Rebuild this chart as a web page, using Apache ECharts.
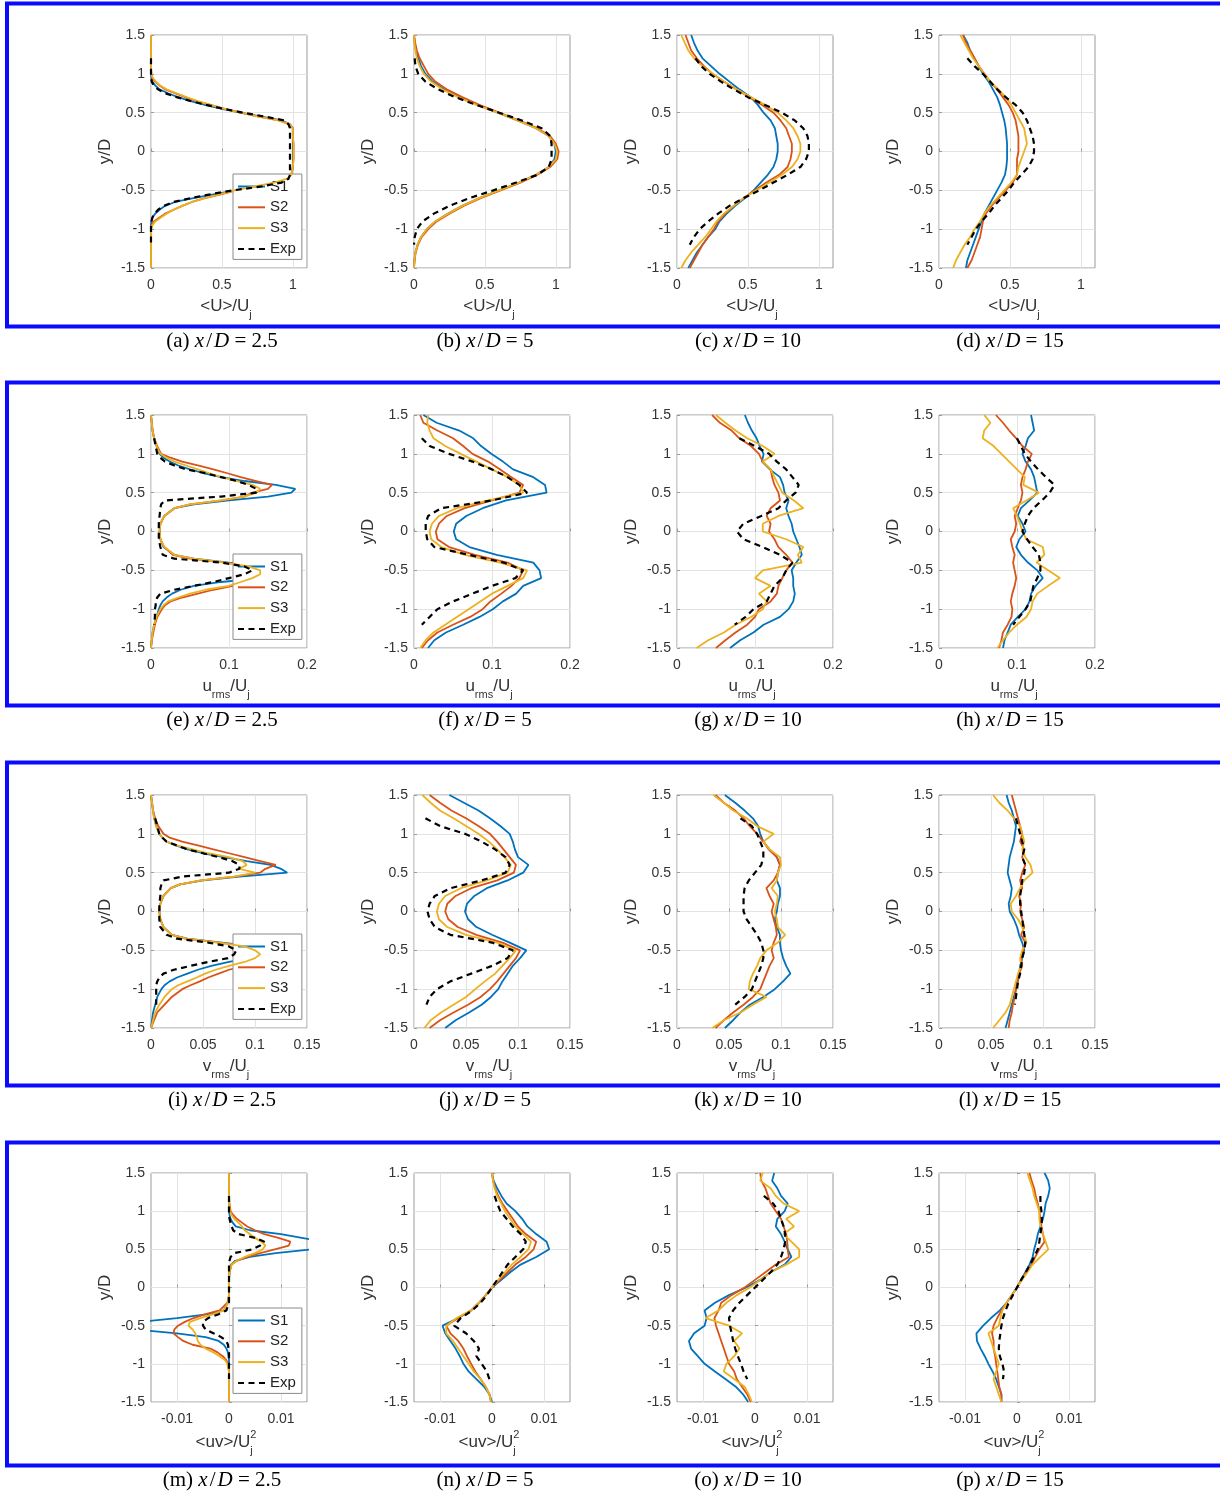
<!DOCTYPE html>
<html>
<head>
<meta charset="utf-8">
<script src="https://cdn.jsdelivr.net/npm/echarts@6/dist/echarts.min.js"></script>
<style>html,body{margin:0;padding:0;background:#fff}#c{width:1220px;height:1497px}</style>
</head>
<body>
<div id="c"></div>
<script>
// ---------------- DATA ----------------
const Y_FINE = [1.5,1.4,1.3,1.2,1.1,1.0,0.95,0.9,0.85,0.8,0.75,0.7,0.65,0.6,0.55,0.5,0.45,0.4,0.35,0.3,0.2,0.1,0,-0.1,-0.2,-0.3,-0.35,-0.4,-0.45,-0.5,-0.55,-0.6,-0.65,-0.7,-0.75,-0.8,-0.85,-0.9,-0.95,-1.0,-1.1,-1.2,-1.3,-1.4,-1.5];
const Y_STEP = [1.5,1.4,1.3,1.2,1.1,1.0,0.9,0.8,0.7,0.6,0.5,0.4,0.3,0.2,0.1,0,-0.1,-0.2,-0.3,-0.4,-0.5,-0.6,-0.7,-0.8,-0.9,-1.0,-1.1,-1.2,-1.3,-1.4,-1.5];

const SERIES_NAMES = ['S1','S2','S3','Exp'];
const X_TICKS_U = [0,0.5,1];
const X_TICKS_URMS = [0,0.1,0.2];
const X_TICKS_VRMS = [0,0.05,0.1,0.15];
const X_TICKS_UV = [-0.01,0,0.01];
const Y_TICKS = [-1.5,-1,-0.5,0,0.5,1,1.5];
const X_RANGES = [[0,1.1],[0,0.2],[0,0.15],[-0.015,0.015]];
const PANEL_LETTERS = ['a','b','c','d','e','f','g','h','i','j','k','l','m','n','o','p'];
const XD_VALUES = ['2.5','5','10','15'];

// (a) <U>/Uj, x/D=2.5
const A_S1 = [0,0,0,0,0,0, 0.003,0.01,0.03,0.06,0.12,0.19,0.28,0.38,0.5,0.63,0.78,0.92,0.98,1, 1,1,1,1,1, 0.99,0.96,0.88,0.76,0.6,0.45,0.3,0.17,0.1,0.06,0.03,0.01,0.003,0, 0,0,0,0,0,0];
const A_S2 = [0,0,0,0,0,0.002, 0.01,0.03,0.06,0.1,0.17,0.24,0.32,0.42,0.52,0.63,0.76,0.9,0.98,1, 1,1.005,1.005,1.005,1, 0.99,0.96,0.88,0.74,0.6,0.5,0.38,0.29,0.22,0.16,0.1,0.06,0.02,0.005, 0,0,0,0,0,0];
const A_S3 = [0,0,0,0,0,0.002, 0.012,0.035,0.065,0.11,0.18,0.25,0.33,0.42,0.52,0.63,0.76,0.9,0.98,1, 1,1.005,1.005,1.005,1, 0.99,0.96,0.87,0.73,0.59,0.49,0.38,0.29,0.22,0.16,0.11,0.07,0.03,0.01, 0.002,0,0,0,0,0];
const A_EXP = [null,null,null,0,0,0, 0,0.005,0.02,0.05,0.1,0.18,0.28,0.39,0.51,0.65,0.8,0.94,0.97,0.98, 0.98,0.98,0.98,0.98,0.98, 0.98,0.97,0.92,0.78,0.58,0.42,0.28,0.16,0.09,0.05,0.025,0.01,0.003,0, 0,0,0,null,null,null];
// (b)
const B_S1 = [0,0.005,0.015,0.03,0.05, 0.08,0.13,0.21,0.32,0.45, 0.59,0.73,0.86,0.95,0.99, 1.0, 0.99,0.95,0.86,0.74,0.6, 0.46,0.34,0.24,0.15,0.09, 0.05,0.025,0.01,0.003,0];
const B_S2 = [0,0.008,0.02,0.04,0.07, 0.1,0.15,0.23,0.34,0.46, 0.6,0.74,0.87,0.96,1.0, 1.02, 1.01,0.96,0.87,0.75,0.61, 0.47,0.35,0.25,0.16,0.1, 0.055,0.028,0.012,0.004,0];
const B_S3 = [0,0.003,0.01,0.02,0.04, 0.07,0.12,0.2,0.31,0.44, 0.59,0.73,0.86,0.95,0.99, 1.01, 1.0,0.95,0.86,0.74,0.6, 0.46,0.34,0.24,0.15,0.09, 0.05,0.025,0.01,0.003,0];
const B_EXP = [null,null,null,0.005,0.01, 0.03,0.08,0.17,0.29,0.44, 0.6,0.76,0.9,0.96,0.97, 0.97, 0.97,0.95,0.87,0.72,0.56, 0.39,0.25,0.14,0.06,0.02, 0.005,0,null,null,null];
// (c)
const C_S1 = [0.1,0.12,0.145,0.18,0.24, 0.3,0.37,0.44,0.52,0.57, 0.61,0.66,0.69,0.7,0.71, 0.71, 0.7,0.68,0.64,0.59,0.54, 0.48,0.41,0.35,0.3,0.27, 0.22,0.18,0.14,0.11,0.08];
const C_S2 = [0.06,0.08,0.1,0.14,0.19, 0.25,0.33,0.42,0.51,0.6, 0.68,0.73,0.77,0.79,0.81, 0.81, 0.8,0.78,0.72,0.63,0.55, 0.47,0.4,0.34,0.29,0.26, 0.22,0.18,0.15,0.12,0.09];
const C_S3 = [0.03,0.055,0.08,0.12,0.18, 0.25,0.33,0.42,0.52,0.62, 0.71,0.77,0.82,0.85,0.87, 0.87, 0.85,0.81,0.74,0.65,0.56, 0.47,0.4,0.33,0.28,0.24, 0.2,0.15,0.1,0.06,0.03];
const C_EXP = [null,null,null,0.13,0.17, 0.23,0.31,0.4,0.5,0.62, 0.74,0.83,0.89,0.92,0.93, 0.93, 0.91,0.87,0.78,0.68,0.58, 0.47,0.37,0.29,0.22,0.16, 0.12,0.09,null,null,null];
// (d)
const D_S1 = [0.17,0.2,0.22,0.25,0.28, 0.31,0.35,0.38,0.41,0.43, 0.445,0.46,0.47,0.475,0.48, 0.48, 0.48,0.475,0.465,0.44,0.41, 0.38,0.35,0.32,0.3,0.28, 0.26,0.24,0.22,0.2,0.19];
const D_S2 = [0.17,0.19,0.22,0.25,0.28, 0.32,0.36,0.41,0.45,0.49, 0.52,0.54,0.55,0.56,0.56, 0.56, 0.55,0.55,0.55,0.52,0.47, 0.42,0.37,0.33,0.31,0.3, 0.29,0.27,0.25,0.23,0.2];
const D_S3 = [0.15,0.18,0.21,0.24,0.28, 0.32,0.36,0.42,0.47,0.51, 0.54,0.57,0.6,0.61,0.62, 0.6, 0.58,0.56,0.55,0.51,0.46, 0.41,0.36,0.32,0.29,0.25, 0.22,0.18,0.15,0.12,0.1];
const D_EXP = [null,null,null,0.2,0.25, 0.31,0.36,0.41,0.47,0.54, 0.59,0.62,0.64,0.66,0.67, 0.67, 0.66,0.63,0.58,0.53,0.49, 0.44,0.39,0.35,0.3,0.26, 0.23,0.2,null,null,null];
// (e) urms/Uj
const E_S1 = [0,0.001,0.002,0.004,0.007,0.011, 0.016,0.024,0.035,0.05,0.068,0.09,0.12,0.16,0.185,0.18,0.15,0.1,0.055,0.03, 0.017,0.012,0.011,0.012,0.016, 0.03,0.055,0.1,0.15,0.18,0.18,0.14,0.09,0.055,0.038,0.027,0.02,0.015,0.012, 0.01,0.007,0.004,0.002,0.001,0];
const E_S2 = [0,0.001,0.002,0.004,0.008,0.013, 0.025,0.04,0.06,0.08,0.098,0.115,0.135,0.155,0.15,0.13,0.12,0.09,0.05,0.03, 0.017,0.012,0.011,0.012,0.017, 0.028,0.05,0.095,0.13,0.15,0.155,0.14,0.125,0.105,0.08,0.06,0.04,0.025,0.018, 0.014,0.008,0.005,0.003,0.001,0];
const E_S3 = [0,0.001,0.002,0.004,0.007,0.012, 0.02,0.03,0.045,0.06,0.075,0.09,0.11,0.13,0.14,0.135,0.12,0.09,0.05,0.03, 0.017,0.012,0.011,0.012,0.017, 0.03,0.055,0.095,0.125,0.14,0.14,0.13,0.115,0.1,0.07,0.05,0.035,0.022,0.016, 0.012,0.007,0.004,0.002,0.001,0];
const E_EXP = [null,null,null,0.004,0.006,0.008, 0.012,0.018,0.03,0.045,0.07,0.09,0.11,0.125,0.135,0.135,0.09,0.018,0.013,0.012, 0.011,0.01,0.01,0.01,0.012, 0.015,0.03,0.09,0.12,0.13,0.12,0.1,0.08,0.055,0.03,0.012,0.008,0.006,0.006, 0.005,0.005,0.004,null,null,null];
// (f)
const F_S1 = [0.012,0.029,0.058,0.076,0.086, 0.099,0.114,0.127,0.153,0.168, 0.17,0.118,0.088,0.067,0.054, 0.051, 0.054,0.071,0.106,0.153,0.161, 0.163,0.14,0.131,0.114,0.101, 0.084,0.063,0.041,0.026,0.018];
const F_S2 = [0.008,0.012,0.03,0.05,0.063, 0.075,0.095,0.11,0.125,0.14, 0.135,0.1,0.065,0.042,0.032, 0.028, 0.03,0.045,0.078,0.12,0.14, 0.135,0.125,0.112,0.098,0.088, 0.072,0.05,0.03,0.018,0.01];
const F_S3 = [0.018,0.017,0.02,0.025,0.04, 0.06,0.08,0.1,0.12,0.135, 0.14,0.095,0.055,0.032,0.023, 0.02, 0.022,0.035,0.065,0.11,0.145, 0.14,0.12,0.1,0.085,0.07, 0.055,0.04,0.025,0.015,0.008];
const F_EXP = [null,null,null,0.01,0.02, 0.045,0.075,0.1,0.12,0.135, 0.145,0.1,0.035,0.018,0.015, 0.015, 0.017,0.026,0.07,0.115,0.14, 0.13,0.1,0.075,0.05,0.03, 0.02,0.01,null,null,null];
// (g)
const G_S1 = [0.087,0.091,0.096,0.102,0.106, 0.111,0.109,0.119,0.132,0.136, 0.138,0.143,0.14,0.143,0.147, 0.149, 0.153,0.157,0.16,0.153,0.147, 0.149,0.149,0.151,0.149,0.143, 0.132,0.111,0.098,0.081,0.068];
const G_S2 = [0.045,0.055,0.07,0.08,0.095, 0.105,0.11,0.12,0.122,0.125, 0.13,0.132,0.12,0.115,0.12, 0.118, 0.125,0.13,0.14,0.148,0.14, 0.135,0.13,0.128,0.12,0.105, 0.1,0.09,0.075,0.062,0.05];
const G_S3 = [0.05,0.062,0.075,0.09,0.11, 0.125,0.11,0.12,0.125,0.13, 0.135,0.15,0.162,0.13,0.11, 0.11, 0.14,0.162,0.155,0.16,0.11, 0.1,0.12,0.105,0.115,0.11, 0.095,0.075,0.06,0.04,0.025];
const G_EXP = [null,null,null,0.08,0.1, 0.118,0.128,0.14,0.148,0.156, 0.152,0.14,0.13,0.108,0.085, 0.077, 0.085,0.11,0.132,0.148,0.14, 0.135,0.125,0.12,0.115,0.098, 0.088,0.074,null,null,null];
// (h)
const H_S1 = [0.118,0.12,0.122,0.114,0.111, 0.107,0.111,0.118,0.122,0.124, 0.126,0.116,0.105,0.101,0.107, 0.111, 0.103,0.099,0.105,0.114,0.126, 0.133,0.124,0.118,0.116,0.111, 0.101,0.092,0.088,0.084,0.082];
const H_S2 = [0.073,0.082,0.09,0.099,0.107, 0.119,0.114,0.111,0.107,0.105, 0.107,0.105,0.101,0.097,0.099, 0.097, 0.092,0.094,0.097,0.095,0.097, 0.099,0.097,0.094,0.092,0.094, 0.093,0.088,0.082,0.08,0.077];
const H_S3 = [0.058,0.066,0.058,0.056,0.07, 0.08,0.09,0.1,0.11,0.108, 0.128,0.112,0.095,0.1,0.104, 0.107, 0.112,0.133,0.135,0.125,0.14, 0.155,0.14,0.126,0.12,0.118, 0.112,0.1,0.09,0.082,0.075];
const H_EXP = [null,null,null,0.1,0.105, 0.11,0.118,0.127,0.137,0.148, 0.142,0.132,0.121,0.114,0.11, 0.107, 0.113,0.12,0.128,0.13,0.13, 0.126,0.121,0.119,0.117,0.111, 0.103,0.095,null,null,null];
// (i) vrms/Uj
const I_S1 = [0,0.001,0.002,0.003,0.005,0.008, 0.011,0.015,0.024,0.035,0.05,0.07,0.092,0.115,0.125,0.131,0.085,0.05,0.028,0.019, 0.012,0.009,0.008,0.009,0.012, 0.02,0.035,0.068,0.1,0.125,0.12,0.095,0.075,0.058,0.045,0.035,0.025,0.018,0.013, 0.01,0.006,0.004,0.002,0.001,0];
const I_S2 = [0,0.001,0.002,0.004,0.007,0.012, 0.018,0.03,0.045,0.06,0.075,0.09,0.105,0.12,0.11,0.105,0.08,0.048,0.028,0.019, 0.012,0.009,0.008,0.009,0.012, 0.02,0.033,0.065,0.095,0.11,0.115,0.12,0.11,0.09,0.075,0.065,0.055,0.047,0.038, 0.03,0.02,0.013,0.006,0.003,0];
const I_S3 = [0,0.001,0.002,0.003,0.005,0.008, 0.011,0.015,0.025,0.04,0.055,0.075,0.088,0.092,0.085,0.1,0.08,0.048,0.028,0.019, 0.012,0.009,0.008,0.009,0.012, 0.02,0.034,0.065,0.09,0.1,0.105,0.1,0.09,0.075,0.062,0.052,0.044,0.035,0.026, 0.02,0.013,0.008,0.004,0.002,0];
const I_EXP = [null,null,null,0.004,0.006,0.008, 0.011,0.015,0.025,0.035,0.05,0.065,0.078,0.085,0.085,0.075,0.03,0.012,0.01,0.009, 0.009,0.008,0.008,0.008,0.009, 0.015,0.025,0.055,0.075,0.082,0.08,0.074,0.055,0.038,0.022,0.012,0.008,0.006,0.005, 0.005,0.005,0.005,null,null,null];
// (j)
const J_S1 = [0.034,0.048,0.062,0.073,0.083, 0.092,0.095,0.097,0.1,0.11, 0.105,0.09,0.07,0.058,0.051, 0.049, 0.052,0.06,0.075,0.092,0.108, 0.102,0.095,0.09,0.085,0.081, 0.074,0.065,0.053,0.04,0.03];
const J_S2 = [0.015,0.025,0.036,0.05,0.062, 0.073,0.08,0.086,0.092,0.098, 0.096,0.08,0.055,0.04,0.032, 0.03, 0.033,0.042,0.06,0.085,0.102, 0.098,0.092,0.086,0.08,0.073, 0.064,0.052,0.038,0.025,0.015];
const J_S3 = [0.008,0.016,0.025,0.038,0.05, 0.062,0.072,0.08,0.087,0.093, 0.09,0.07,0.045,0.03,0.024, 0.022, 0.024,0.032,0.05,0.08,0.098, 0.092,0.085,0.078,0.068,0.059, 0.05,0.038,0.026,0.016,0.01];
const J_EXP = [null,null,null,0.011,0.025, 0.049,0.065,0.078,0.088,0.092, 0.088,0.065,0.035,0.02,0.015, 0.013, 0.015,0.02,0.035,0.075,0.095, 0.09,0.075,0.055,0.035,0.022, 0.015,0.012,null,null,null];
// (k)
const K_S1 = [0.046,0.056,0.065,0.073,0.078, 0.08,0.083,0.089,0.096,0.099, 0.097,0.096,0.099,0.099,0.097, 0.096, 0.094,0.096,0.099,0.099,0.1, 0.102,0.105,0.109,0.102,0.094, 0.083,0.07,0.061,0.054,0.046];
const K_S2 = [0.037,0.045,0.056,0.064,0.07, 0.077,0.083,0.088,0.096,0.099, 0.097,0.093,0.086,0.089,0.093, 0.091, 0.093,0.095,0.096,0.093,0.091, 0.093,0.089,0.086,0.083,0.08, 0.073,0.064,0.054,0.045,0.037];
const K_S3 = [0.035,0.045,0.054,0.067,0.077, 0.093,0.083,0.089,0.099,0.1, 0.097,0.096,0.091,0.097,0.096, 0.094, 0.096,0.097,0.104,0.097,0.086, 0.08,0.077,0.073,0.07,0.069, 0.086,0.073,0.061,0.045,0.034];
const K_EXP = [null,null,null,0.061,0.072, 0.077,0.08,0.083,0.083,0.081, 0.075,0.069,0.065,0.064,0.064, 0.064, 0.067,0.072,0.077,0.081,0.083, 0.083,0.081,0.078,0.075,0.072, 0.065,0.056,null,null,null];
// (l)
const L_S1 = [0.065,0.067,0.07,0.072,0.074, 0.073,0.072,0.07,0.068,0.067, 0.066,0.068,0.07,0.069,0.067, 0.068, 0.072,0.075,0.077,0.08,0.082, 0.08,0.078,0.077,0.075,0.074, 0.072,0.07,0.068,0.066,0.064];
const L_S2 = [0.07,0.072,0.074,0.076,0.078, 0.08,0.078,0.082,0.08,0.083, 0.08,0.078,0.08,0.077,0.079, 0.078, 0.08,0.082,0.079,0.083,0.081, 0.079,0.08,0.077,0.076,0.074, 0.073,0.071,0.07,0.068,0.067];
const L_S3 = [0.052,0.058,0.066,0.072,0.078, 0.08,0.082,0.08,0.083,0.088, 0.09,0.082,0.078,0.074,0.069, 0.07, 0.076,0.08,0.082,0.084,0.08, 0.078,0.079,0.076,0.074,0.072, 0.07,0.068,0.064,0.058,0.052];
const L_EXP = [null,null,null,0.074,0.076, 0.078,0.08,0.082,0.08,0.083, 0.082,0.08,0.079,0.078,0.078, 0.079, 0.08,0.081,0.082,0.083,0.082, 0.08,0.079,0.078,0.076,0.075, 0.074,0.073,null,null,null];
// (m) <uv>/Uj^2
const M_S1 = [0,0,0,0,0,0, 0.0001,0.0003,0.0007,0.0013,0.004,0.01,0.014,0.018,0.019,0.016,0.009,0.004,0.0012,0.0004, 0.0001,0,0,0,-0.0002, -0.001,-0.004,-0.01,-0.017,-0.02,-0.018,-0.01,-0.0045,-0.002,-0.001,-0.0005,-0.0002,-0.0001,0, 0,0,0,0,0,0];
const M_S2 = [0,0,0,0,0.0001,0.0003, 0.0008,0.0015,0.0025,0.0035,0.005,0.0068,0.0095,0.0118,0.0115,0.0088,0.006,0.0035,0.0015,0.0005, 0.0001,0,0,0,-0.0003, -0.0018,-0.0045,-0.0068,-0.0085,-0.0098,-0.0105,-0.0107,-0.0098,-0.0088,-0.007,-0.0036,-0.0022,-0.0012,-0.0005, -0.0002,0,0,0,0,0];
const M_S3 = [0,0,0,0,0,0.0002, 0.0005,0.001,0.0018,0.0025,0.003,0.004,0.005,0.0062,0.007,0.0065,0.005,0.003,0.0015,0.0005, 0.0001,0,0,0,-0.0002, -0.001,-0.003,-0.0055,-0.0075,-0.0078,-0.007,-0.0065,-0.0062,-0.006,-0.0055,-0.0045,-0.003,-0.0018,-0.0008, -0.0003,0,0,0,0,0];
const M_EXP = [null,null,null,0,0,0, 0,0.0001,0.0003,0.0005,0.0008,0.0018,0.005,0.0068,0.006,0.0045,0.001,0.0003,0.0001,0, 0,0,0,0,0, -0.0005,-0.002,-0.004,-0.005,-0.005,-0.0045,-0.003,-0.0015,-0.0005,-0.0002,-0.0001,0,0,0, 0,0,0,null,null,null];
// (n)
const N_S1 = [0,0.0003,0.001,0.0018,0.0028, 0.0045,0.0058,0.0068,0.0085,0.0105, 0.011,0.0085,0.0055,0.0035,0.0018, 0, -0.0012,-0.0025,-0.004,-0.0065,-0.0095, -0.009,-0.008,-0.007,-0.0062,-0.0055, -0.0045,-0.003,-0.0015,-0.0005,0];
const N_S2 = [0,0.0002,0.0006,0.0012,0.002, 0.003,0.004,0.005,0.0065,0.0085, 0.008,0.0065,0.0045,0.003,0.0015, 0, -0.0012,-0.0025,-0.004,-0.0065,-0.0088, -0.008,-0.0065,-0.0055,-0.0048,-0.004, -0.0032,-0.0022,-0.0012,-0.0005,-0.0002];
const N_S3 = [0,0.0002,0.0005,0.001,0.0018, 0.0025,0.0035,0.0045,0.006,0.0075, 0.007,0.0055,0.0038,0.0025,0.0012, 0, -0.0012,-0.0025,-0.004,-0.0068,-0.0088, -0.0088,-0.0075,-0.0065,-0.0055,-0.0045, -0.0035,-0.0022,-0.0012,-0.0005,-0.0002];
const N_EXP = [null,null,null,0.0005,0.001, 0.0016,0.0028,0.004,0.0055,0.0065, 0.006,0.0045,0.003,0.002,0.001, 0, -0.001,-0.0022,-0.0038,-0.006,-0.0073, -0.005,-0.0035,-0.0025,-0.003,-0.002, -0.001,-0.0005,null,null,null];
// (o)
const O_S1 = [0.0037,0.0033,0.0043,0.005,0.0063, 0.0057,0.0043,0.004,0.005,0.0057, 0.0063,0.007,0.0057,0.003,0.001, -0.0017, -0.005,-0.0077,-0.0097,-0.0093,-0.0097, -0.0117,-0.0127,-0.0123,-0.011,-0.0097, -0.0077,-0.0057,-0.0037,-0.0023,-0.0013];
const O_S2 = [0.001,0.0012,0.002,0.0025,0.003, 0.004,0.005,0.0055,0.006,0.0062, 0.0063,0.0065,0.004,0.002,0, -0.002, -0.0045,-0.0065,-0.007,-0.0078,-0.0075, -0.007,-0.0065,-0.006,-0.0055,-0.005, -0.004,-0.0035,-0.0025,-0.0015,-0.0008];
const O_S3 = [0.0015,0.001,0.003,0.004,0.0055, 0.0085,0.006,0.0075,0.0055,0.007, 0.0085,0.0085,0.006,0.003,0.001, -0.001, -0.0035,-0.0055,-0.007,-0.0095,-0.005, -0.0025,-0.004,-0.003,-0.004,-0.0055, -0.006,-0.004,-0.002,-0.0012,-0.0006];
const O_EXP = [null,null,null,0.0017,0.0035, 0.0045,0.005,0.0055,0.0058,0.0058, 0.0055,0.005,0.0043,0.003,0.0015, 0, -0.0015,-0.003,-0.0042,-0.005,-0.0048, -0.0045,-0.0042,-0.0038,-0.0033,-0.0027, -0.0022,-0.0015,null,null,null];
// (p)
const P_S1 = [0.0053,0.006,0.0063,0.006,0.0055, 0.0053,0.005,0.0045,0.004,0.0037, 0.0033,0.003,0.0024,0.0016,0.0008, 0, -0.001,-0.002,-0.0033,-0.005,-0.0065, -0.0078,-0.0077,-0.007,-0.0062,-0.0055, -0.0047,-0.004,-0.0035,-0.003,-0.003];
const P_S2 = [0.0024,0.0028,0.0033,0.0036,0.004, 0.0043,0.0045,0.0047,0.005,0.0053, 0.0043,0.0035,0.0028,0.0018,0.0008, 0, -0.001,-0.002,-0.003,-0.0038,-0.0045, -0.0048,-0.0045,-0.0045,-0.0042,-0.004, -0.0038,-0.0036,-0.0034,-0.003,-0.003];
const P_S3 = [0.002,0.0025,0.003,0.0033,0.0038, 0.0043,0.0043,0.0045,0.005,0.0055, 0.006,0.0045,0.003,0.002,0.001, 0, -0.001,-0.002,-0.0028,-0.0032,-0.0035, -0.0055,-0.005,-0.0045,-0.004,-0.0035, -0.004,-0.0045,-0.004,-0.0035,-0.003];
const P_EXP = [null,null,null,0.0045,0.0045, 0.0047,0.0048,0.0047,0.0045,0.0043, 0.004,0.0033,0.0025,0.0017,0.0008, 0, -0.0008,-0.0016,-0.0022,-0.0027,-0.003, -0.0032,-0.0034,-0.0035,-0.0033,-0.0028, -0.0025,-0.0027,null,null,null];

// ---------------- LAYOUT / STYLE ----------------
const PANELS = [
  {y:Y_FINE, s:[A_S1,A_S2,A_S3,A_EXP]}, {y:Y_STEP, s:[B_S1,B_S2,B_S3,B_EXP]}, {y:Y_STEP, s:[C_S1,C_S2,C_S3,C_EXP]}, {y:Y_STEP, s:[D_S1,D_S2,D_S3,D_EXP]},
  {y:Y_FINE, s:[E_S1,E_S2,E_S3,E_EXP]}, {y:Y_STEP, s:[F_S1,F_S2,F_S3,F_EXP]}, {y:Y_STEP, s:[G_S1,G_S2,G_S3,G_EXP]}, {y:Y_STEP, s:[H_S1,H_S2,H_S3,H_EXP]},
  {y:Y_FINE, s:[I_S1,I_S2,I_S3,I_EXP]}, {y:Y_STEP, s:[J_S1,J_S2,J_S3,J_EXP]}, {y:Y_STEP, s:[K_S1,K_S2,K_S3,K_EXP]}, {y:Y_STEP, s:[L_S1,L_S2,L_S3,L_EXP]},
  {y:Y_FINE, s:[M_S1,M_S2,M_S3,M_EXP]}, {y:Y_STEP, s:[N_S1,N_S2,N_S3,N_EXP]}, {y:Y_STEP, s:[O_S1,O_S2,O_S3,O_EXP]}, {y:Y_STEP, s:[P_S1,P_S2,P_S3,P_EXP]}
];
const ROW_X_TICKS = [X_TICKS_U, X_TICKS_URMS, X_TICKS_VRMS, X_TICKS_UV];
const X_NAME_PARTS = [
  [['<U>/U','n'],['j','sub']],
  [['u','n'],['rms','sub'],['/U','n'],['j','sub']],
  [['v','n'],['rms','sub'],['/U','n'],['j','sub']],
  [['<uv>/U','n'],['2','sup'],['j','subStack']]
];
const ROW_TOP = [35, 415, 795, 1173];
const ROW_H = [233, 233, 233, 229];
const COL_LEFT = [151, 414, 677, 939];
const PLOT_W = 156;
const BOX_TOP = [3.5, 382.5, 762.5, 1142.5];
const CAP_Y = [341, 720, 1100, 1480];
const CAP_X = [222, 485, 748, 1010];
const COLORS = ['#0072BD', '#D95319', '#EDB120', '#000000'];
const SANS = '"Liberation Sans", Arial, Helvetica, sans-serif';
const SERIF = '"Liberation Serif", "Times New Roman", serif';
const TXT = '#333333';
const NAME_SIZE = 17, SUB_SIZE = 11;

const mctx = document.createElement('canvas').getContext('2d');
function textW(t, size) { mctx.font = size + 'px ' + SANS; return mctx.measureText(t).width; }
function fmt(v) { return String(Math.round(v * 1e6) / 1e6); }

function xNameGraphics(parts, cx, cy) {
  const ws = parts.map(([t, k]) => textW(t, k === 'n' ? NAME_SIZE : SUB_SIZE));
  const pos = []; let x = 0;
  parts.forEach(([t, k], i) => {
    if (k === 'subStack') pos.push(pos[i - 1]); else { pos.push(x); x += ws[i]; }
  });
  let width = 0; parts.forEach((p, i) => { width = Math.max(width, pos[i] + ws[i]); });
  const x0 = cx - width / 2;
  return parts.map(([t, k], i) => ({
    type: 'text', silent: true,
    x: x0 + pos[i],
    y: cy + (k === 'n' ? 0 : (k === 'sup' ? -7 : 9)),
    style: {
      text: t, fill: TXT, fontFamily: SANS,
      fontSize: k === 'n' ? NAME_SIZE : SUB_SIZE,
      align: 'left', verticalAlign: 'middle', textAlign: 'left', textVerticalAlign: 'middle'
    }
  }));
}

const grids = [], xAxes = [], yAxes = [], series = [], legends = [], graphics = [];

PANELS.forEach((p, i) => {
  const r = Math.floor(i / 4), c = i % 4;
  grids.push({ left: COL_LEFT[c], top: ROW_TOP[r], width: PLOT_W, height: ROW_H[r],
    show: true, borderColor: '#9a9a9a', borderWidth: 1, backgroundColor: '#fff' });
  xAxes.push({
    type: 'value', gridIndex: i, min: X_RANGES[r][0], max: X_RANGES[r][1],
    axisLine: { show: false },
    axisTick: { show: true, inside: true, length: 3, customValues: ROW_X_TICKS[r], lineStyle: { color: '#9a9a9a' } },
    axisLabel: { customValues: ROW_X_TICKS[r], formatter: fmt, color: TXT, fontSize: 14, fontFamily: SANS, margin: 10 },
    splitLine: { show: true, lineStyle: { color: '#e3e3e3', width: 1 } }
  });
  yAxes.push({
    type: 'value', gridIndex: i, min: -1.5, max: 1.5, interval: 0.5,
    axisLine: { show: false },
    axisTick: { show: true, inside: true, length: 3, lineStyle: { color: '#9a9a9a' } },
    axisLabel: { formatter: fmt, color: TXT, fontSize: 14, fontFamily: SANS, margin: 6 },
    splitLine: { show: true, lineStyle: { color: '#e3e3e3', width: 1 } }
  });
  p.s.forEach((xs, k) => {
    const data = [];
    p.y.forEach((yy, j) => { if (xs[j] !== null && xs[j] !== undefined) data.push([xs[j], yy]); });
    series.push({
      type: 'line', name: SERIES_NAMES[k], xAxisIndex: i, yAxisIndex: i,
      data: data, symbol: 'none', showSymbol: false, clip: true, silent: true, z: 2 + k,
      lineStyle: k === 3 ? { color: COLORS[k], width: 2.2, type: [6, 4.5] } : { color: COLORS[k], width: 1.8 },
      itemStyle: { color: COLORS[k] }
    });
  });
  // y axis name
  graphics.push({
    type: 'text', silent: true, x: COL_LEFT[c] - 46, y: ROW_TOP[r] + ROW_H[r] / 2, rotation: Math.PI / 2,
    style: { text: 'y/D', fill: TXT, fontFamily: SANS, fontSize: NAME_SIZE,
      align: 'center', verticalAlign: 'middle', textAlign: 'center', textVerticalAlign: 'middle' }
  });
  // x axis name
  xNameGraphics(X_NAME_PARTS[r], COL_LEFT[c] + PLOT_W / 2 - 3, ROW_TOP[r] + ROW_H[r] + (r === 3 ? 40 : 38))
    .forEach(g => graphics.push(g));
  // caption
  graphics.push({
    type: 'text', silent: true, x: CAP_X[c], y: CAP_Y[r],
    style: {
      text: '{n|(' + PANEL_LETTERS[i] + ') }{i|x}{s|/}{i|D}{n| = ' + XD_VALUES[c] + '}',
      align: 'center', verticalAlign: 'middle', textAlign: 'center', textVerticalAlign: 'middle',
      rich: {
        n: { fontFamily: SERIF, fontSize: 21, fill: '#000', color: '#000' },
        i: { fontFamily: SERIF, fontSize: 21, fontStyle: 'italic', fill: '#000', color: '#000' },
        s: { fontFamily: SERIF, fontSize: 21, fill: '#000', color: '#000', padding: [0, 2, 0, 2] }
      }
    }
  });
});

for (let r = 0; r < 4; r++) {
  legends.push({
    left: 233, top: ROW_TOP[r] + (r === 3 ? 135 : 139), orient: 'vertical',
    data: SERIES_NAMES, selectedMode: false,
    itemWidth: 27, itemHeight: 14, itemGap: 5.8,
    itemStyle: { opacity: 0, borderWidth: 0 },
    padding: [5, 6, 3, 4], backgroundColor: '#fff', borderColor: '#8a8a8a', borderWidth: 1, borderRadius: 0,
    textStyle: { color: '#222', fontSize: 15, fontFamily: SANS, lineHeight: 14 }
  });
  graphics.push({
    type: 'rect', silent: true, z: 100,
    shape: { x: 7, y: BOX_TOP[r], width: 1240, height: 323 },
    style: { fill: 'none', stroke: '#0a0aff', lineWidth: 4 }
  });
}

const chart = echarts.init(document.getElementById('c'), null, { renderer: 'canvas', width: 1220, height: 1497 });
chart.setOption({
  animation: false,
  backgroundColor: '#ffffff',
  textStyle: { fontFamily: SANS },
  grid: grids, xAxis: xAxes, yAxis: yAxes, series: series, legend: legends,
  graphic: { elements: graphics }
});
</script>
</body>
</html>
